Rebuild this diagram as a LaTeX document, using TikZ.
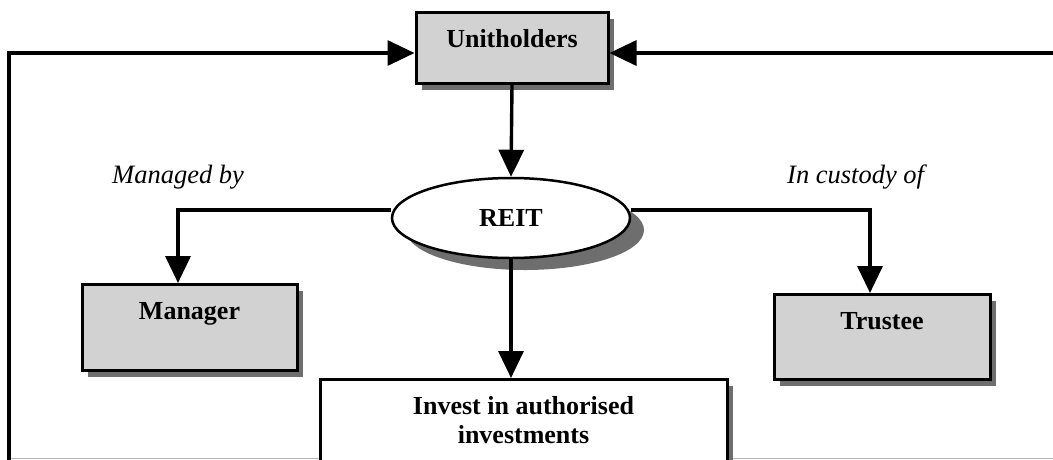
\documentclass[tikz,border=0pt]{standalone}
\usepackage{fontspec}
\setmainfont{Liberation Serif}
\usetikzlibrary{arrows.meta,shapes.geometric,shadows}
\definecolor{boxfill}{RGB}{210,210,210}
\definecolor{shadowgray}{RGB}{110,110,110}
\begin{document}
\begin{tikzpicture}[x=1pt,y=-1pt,
  boxnode/.style={draw=black,line width=3pt,fill=boxfill,inner xsep=0pt,inner ysep=17pt,
    text height=18pt,font=\fontsize{26}{29}\selectfont\bfseries,anchor=north,
    drop shadow={shadow xshift=6pt,shadow yshift=-6pt,fill=shadowgray,opacity=1}},
  ellnode/.style={ellipse,draw=black,line width=2.5pt,fill=white,inner sep=0pt,
    font=\fontsize{26}{29}\selectfont\bfseries,
    drop shadow={shadow xshift=14pt,shadow yshift=-12pt,fill=shadowgray,opacity=1}},
  lbl/.style={font=\fontsize{26.5}{30}\selectfont\itshape,anchor=base west,inner sep=0pt},
  arr/.style={line width=3.4pt,-{Triangle[length=27pt,width=25pt]}}]
\path[use as bounding box] (0,0) rectangle (1053,459);
\clip (0,0) rectangle (1053,459);
% faint bottom line
\draw[gray!60,line width=1pt] (9,458) -- (1053,458);
% nodes
\node[boxnode,minimum width=192pt,minimum height=71pt,text depth=19pt] (uh) at (512,11) {Unitholders};
\node[ellnode,minimum width=238pt,minimum height=80pt] (reit) at (511,218) {REIT};
\node[boxnode,minimum width=215pt,minimum height=86pt,text depth=34pt] (mgr) at (189.5,283) {Manager};
\node[boxnode,minimum width=216pt,minimum height=85pt,text depth=33pt] (tru) at (882,293) {Trustee};
\node[boxnode,fill=white,minimum width=407pt,text height=,align=center] (inv) at (523.5,378) {Invest in authorised\\investments\\[2pt]};
% labels
\node[lbl] (lm) at (112,183) {Managed by};
\node[lbl] (lc) at (787,183) {In custody of};
% coordinates
\coordinate (bl) at (9,462);
\coordinate (tl) at (9,53);
\coordinate (tr) at (1056,53);
\coordinate (mturn) at (178,210);
\coordinate (tturn) at (870,210);
% connectors
\draw[arr] (bl) -- (tl) -- (tl -| uh.west);
\draw[arr] (tr) -- (tr -| uh.east);
\draw[arr] (uh.south) -- (reit.north);
\draw[arr] (reit.west |- mturn) -- (mturn) -- (mturn |- mgr.north);
\draw[arr] (reit.east |- tturn) -- (tturn) -- (tturn |- tru.north);
\draw[arr] (reit.south) -- (reit.south |- inv.north);
\end{tikzpicture}
\end{document}
